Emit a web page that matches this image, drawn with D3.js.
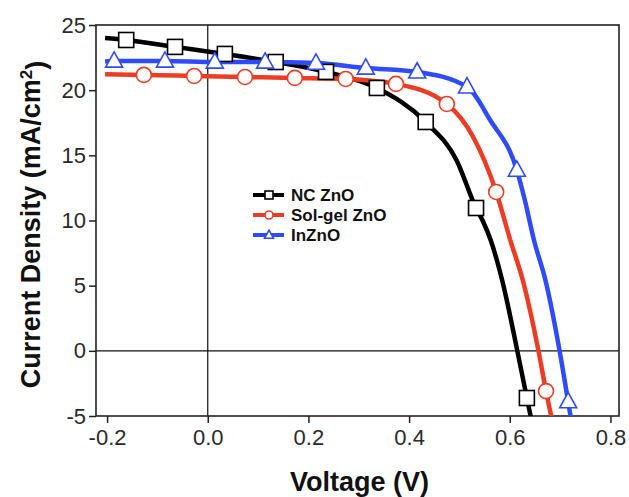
<!DOCTYPE html>
<html>
<head>
<meta charset="utf-8">
<script src="https://cdn.jsdelivr.net/npm/d3@7"></script>
<style>
  html, body { margin: 0; padding: 0; background: #fff; }
  svg { display: block; font-family: "Liberation Sans", Arial, sans-serif; }
</style>
</head>
<body>
<svg id="chart" width="629" height="497"></svg>
<script>
// ---------- data ----------
const seriesNames = ["NC ZnO", "Sol-gel ZnO", "InZnO"];
const seriesColors = ["#000000", "#ee3b24", "#2f4bff"];
const seriesShapes = ["square", "circle", "triangle"];

// marker positions (V, mA/cm2)
const ncMarkV = [-0.162, -0.065, 0.034, 0.135, 0.235, 0.336, 0.433, 0.533, 0.634];
const ncMarkJ = [23.85, 23.32, 22.78, 22.16, 21.40, 20.17, 17.56, 10.96, -3.62];
const sgMarkV = [-0.127, -0.027, 0.074, 0.173, 0.274, 0.374, 0.475, 0.573, 0.672];
const sgMarkJ = [21.17, 21.09, 21.01, 20.94, 20.86, 20.48, 18.94, 12.19, -3.09];
const inMarkV = [-0.186, -0.085, 0.014, 0.114, 0.215, 0.314, 0.416, 0.515, 0.614, 0.716];
const inMarkJ = [22.24, 22.24, 22.16, 22.16, 22.08, 21.70, 21.40, 20.25, 13.87, -3.90];

// traced curve points (V, mA/cm2)
const ncLineV = [-0.204, -0.162, -0.065, 0.034, 0.135, 0.235, 0.336, 0.433, 0.494, 0.533, 0.546, 0.562, 0.585, 0.615, 0.634, 0.643];
const ncLineJ = [24.00, 23.85, 23.32, 22.78, 22.16, 21.40, 20.17, 17.56, 14.64, 10.96, 10.00, 8.50, 5.40, 0.00, -3.62, -5.30];
const sgLineV = [-0.204, -0.127, -0.027, 0.074, 0.173, 0.274, 0.374, 0.475, 0.527, 0.573, 0.601, 0.626, 0.657, 0.672, 0.684];
const sgLineJ = [21.22, 21.17, 21.09, 21.01, 20.94, 20.86, 20.48, 18.94, 16.43, 12.19, 8.50, 5.40, 0.00, -3.09, -5.30];
const inLineV = [-0.204, -0.186, -0.085, 0.014, 0.114, 0.215, 0.314, 0.416, 0.515, 0.561, 0.614, 0.630, 0.648, 0.671, 0.699, 0.716, 0.722];
const inLineJ = [22.20, 22.24, 22.24, 22.16, 22.16, 22.08, 21.70, 21.40, 20.25, 17.71, 13.87, 11.56, 8.50, 5.40, 0.00, -3.90, -5.30];

const xTicks = [-0.2, 0.0, 0.2, 0.4, 0.6, 0.8];
const xTickLabels = ["-0.2", "0.0", "0.2", "0.4", "0.6", "0.8"];
const yTicks = [-5, 0, 5, 10, 15, 20, 25];
const yTickLabels = ["-5", "0", "5", "10", "15", "20", "25"];

// ---------- build ----------
const zip = (a, b) => a.map((v, i) => ({ v: v, j: b[i] }));
const series = [
  { line: zip(ncLineV, ncLineJ), marks: zip(ncMarkV, ncMarkJ) },
  { line: zip(sgLineV, sgLineJ), marks: zip(sgMarkV, sgMarkJ) },
  { line: zip(inLineV, inLineJ), marks: zip(inMarkV, inMarkJ) }
].map((s, i) => Object.assign(s, { name: seriesNames[i], color: seriesColors[i], shape: seriesShapes[i] }));

const svg = d3.select("#chart");
const L = 96, R = 619, T = 25, B = 416;
const x = d3.scaleLinear().domain([-0.222, 0.817]).range([L, R]);
const y = d3.scaleLinear().domain([-5, 25]).range([B, T]);

svg.append("defs").append("clipPath").attr("id", "plotclip")
  .append("rect").attr("x", L).attr("y", T).attr("width", R - L).attr("height", B - T);

// zero lines
svg.append("line").attr("x1", x(0)).attr("x2", x(0)).attr("y1", T).attr("y2", B)
  .attr("stroke", "#111").attr("stroke-width", 1.2);
svg.append("line").attr("x1", L).attr("x2", R).attr("y1", y(0)).attr("y2", y(0))
  .attr("stroke", "#111").attr("stroke-width", 1.2);

// axes
const xAxis = d3.axisBottom(x).tickValues(xTicks).tickFormat((d, i) => xTickLabels[i]).tickSize(7).tickPadding(6);
const yAxis = d3.axisLeft(y).tickValues(yTicks).tickFormat((d, i) => yTickLabels[i]).tickSize(7).tickPadding(3);

const gx = svg.append("g").attr("transform", `translate(0,${B})`).call(xAxis);
const gy = svg.append("g").attr("transform", `translate(${L},0)`).call(yAxis);
[gx, gy].forEach(g => {
  g.select(".domain").remove();
  g.selectAll(".tick line").attr("stroke", "#222").attr("stroke-width", 1.5);
  g.selectAll(".tick text").attr("fill", "#2a2a2a").style("font-size", "22px");
});

// frame
svg.append("rect").attr("x", L).attr("y", T).attr("width", R - L).attr("height", B - T)
  .attr("fill", "none").attr("stroke", "#222").attr("stroke-width", 1.6);

// curves
const lineGen = d3.line().x(d => x(d.v)).y(d => y(d.j)).curve(d3.curveMonotoneX);
const plot = svg.append("g").attr("clip-path", "url(#plotclip)");
series.forEach(s => {
  plot.append("path").datum(s.line).attr("d", lineGen)
    .attr("fill", "none").attr("stroke", s.color).attr("stroke-width", 4.5)
    .attr("stroke-linejoin", "round");
});

function drawMarker(g, shape, cx, cy, size, color) {
  if (shape === "square") {
    g.append("rect").attr("x", cx - size / 2).attr("y", cy - size / 2)
      .attr("width", size).attr("height", size)
      .attr("fill", "#fff").attr("stroke", color).attr("stroke-width", 1.6);
  } else if (shape === "circle") {
    g.append("circle").attr("cx", cx).attr("cy", cy).attr("r", size / 2)
      .attr("fill", "#fff").attr("stroke", color).attr("stroke-width", 1.6);
  } else {
    const h = size * 0.9;
    g.append("path")
      .attr("d", `M${cx},${cy - h * 0.6}L${cx + size / 2},${cy + h * 0.4}L${cx - size / 2},${cy + h * 0.4}Z`)
      .attr("fill", "#fff").attr("stroke", color).attr("stroke-width", 1.6);
  }
}

series.forEach(s => {
  const g = plot.append("g");
  s.marks.forEach(d => drawMarker(g, s.shape, x(d.v), y(d.j), s.shape === "triangle" ? 17 : 15, s.color));
});

// legend
const legX1 = 253, legX2 = 284, legMid = 269, legText = 291;
const legRows = [195, 215, 235];
series.forEach((s, i) => {
  const ly = legRows[i];
  svg.append("line").attr("x1", legX1).attr("x2", legX2).attr("y1", ly).attr("y2", ly)
    .attr("stroke", s.color).attr("stroke-width", 4);
  drawMarker(svg, s.shape, legMid, ly, s.shape === "triangle" ? 9 : 8, s.color);
  svg.append("text").attr("x", legText).attr("y", ly).attr("dy", "0.35em")
    .style("font-size", "17px").style("font-weight", "bold").attr("fill", "#111").text(s.name);
});

// axis titles
svg.append("text").attr("x", (L + R) / 2 + 2).attr("y", 491)
  .attr("text-anchor", "middle").style("font-size", "27px").style("font-weight", "bold")
  .attr("fill", "#111").text("Voltage (V)");

const yt = svg.append("text")
  .attr("transform", `translate(40,${(T + B) / 2 + 4}) rotate(-90)`)
  .attr("text-anchor", "middle").style("font-size", "27px").style("font-weight", "bold")
  .attr("fill", "#111");
yt.append("tspan").text("Current Density (mA/cm");
yt.append("tspan").attr("dy", "-0.45em").style("font-size", "17px").text("2");
yt.append("tspan").attr("dy", "0.45em").text(")");
</script>
</body>
</html>
